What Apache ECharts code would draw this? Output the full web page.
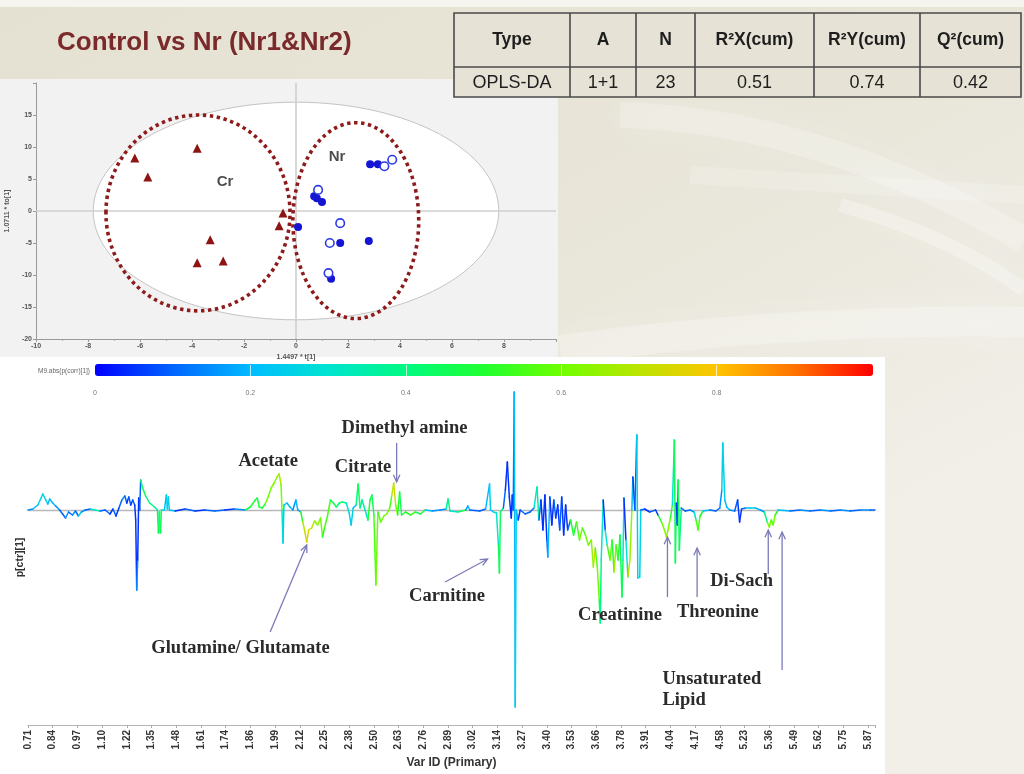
<!DOCTYPE html>
<html>
<head>
<meta charset="utf-8">
<script src="https://cdn.jsdelivr.net/npm/echarts@6.0.0/dist/echarts.min.js"></script>
<style>
  html, body { margin: 0; padding: 0; background: #e7e3d6; }
  #chart { width: 1024px; height: 774px; }
</style>
</head>
<body>
<div id="chart"></div>
<script>
// ---------- OPLS-DA scores: t[1] (predictive) vs to[1] (orthogonal) ----------
const crScores = [[-6.2, 8.3], [-5.7, 5.3], [-3.8, 9.8], [-3.3, -4.5], [-3.8, -8.1], [-2.8, -7.8], [-0.5, -0.3], [-0.65, -2.3]];
const nrScoresFilled = [[2.85, 7.3], [3.15, 7.3], [0.7, 2.3], [0.8, 2.0], [1.0, 1.4], [0.08, -2.5], [1.7, -5.0], [2.8, -4.7], [1.35, -10.6]];
const nrScoresOpen = [[3.4, 7.0], [3.7, 8.0], [0.85, 3.3], [1.7, -1.9], [1.3, -5.0], [1.25, -9.7]];

// Hotelling T2 ellipse and the two group outlines: [centre t, centre to, radius t, radius to]
const hotellingEllipse = [0, 0, 7.8, 17];
const groupEllipses = [[-3.77, -0.3, 3.54, 15.3], [2.3, -1.5, 2.42, 15.3]];
const groupNames = ['Cr', 'Nr'];
const groupNameAnchors = [[-2.73, 4.5], [1.58, 8.4]];

// ---------- model summary ----------
const tableHeader = ['Type', 'A', 'N', 'R\u00b2X(cum)', 'R\u00b2Y(cum)', 'Q\u00b2(cum)'];
const tableRow = ['OPLS-DA', '1+1', '23', '0.51', '0.74', '0.42'];

// ---------- loading line: [variable id, p[ctr][1], |p(corr)[1]|] ----------
const varTickLabels = ['0.71', '0.84', '0.97', '1.10', '1.22', '1.35', '1.48', '1.61', '1.74', '1.86', '1.99', '2.12',
  '2.25', '2.38', '2.50', '2.63', '2.76', '2.89', '3.02', '3.14', '3.27', '3.40', '3.53', '3.66', '3.78', '3.91',
  '4.04', '4.17', '4.58', '5.23', '5.36', '5.49', '5.62', '5.75', '5.87'];
const varsPerTick = 25;
const varCount = 857;

const loadings = [
  [0,0,.15],[5,.001,.2],[10,.005,.25],[15,.016,.25],[18,.010,.25],[20,.006,.2],[22,.011,.2],[25,.007,.2],[28,.004,.15],
  [32,0,.1],[35,-.004,.1],[38,-.008,.15],[41,-.002,.1],[45,-.005,.15],[48,-.001,.1],[51,-.006,.25],[54,-.002,.15],
  [58,0,.1],[63,.001,.3],[68,0,.35],[73,-.001,.1],[78,0,.1],[83,-.004,.05],[86,.001,.1],[89,-.006,.05],[92,.002,.1],
  [95,.010,.15],[98,.014,.1],[100,.007,.05],[102,.013,.1],[104,.005,.05],[106,.010,.1],[108,.005,.05],[109,-.010,.05],
  [110,-.080,.15],[111,-.050,.05],[112,.012,.05],[113,0,.1],[114,.030,.45],[116,.022,.45],[119,.014,.4],[123,.007,.4],
  [128,.003,.35],[131,0,.35],[132,-.023,.45],[133,-.002,.45],[134,-.023,.45],[135,0,.3],[138,0,.2],[140,.015,.25],
  [141,.001,.25],[142,.013,.25],[143,0,.2],[149,-.001,.05],[159,.001,.1],[169,-.001,.05],[179,0,.1],[189,-.001,.1],
  [199,0,.05],[209,.001,.15],[220,0,.45],[225,.003,.5],[230,.010,.45],[232,.012,.5],[234,.003,.45],[237,.002,.5],
  [240,.006,.6],[243,.013,.6],[246,.022,.62],[249,.027,.62],[252,.033,.65],[254,.036,.68],[256,.026,.6],[257,0,.3],
  [258,-.033,.25],[259,.005,.2],[262,.007,.2],[265,.003,.2],[268,0,.15],[271,.010,.2],[273,0,.15],[276,-.002,.5],
  [278,-.012,.7],[280,-.021,.72],[282,-.032,.75],[284,-.020,.7],[287,-.018,.7],[290,-.011,.62],[293,-.015,.65],
  [296,-.008,.6],[298,-.027,.5],[300,-.018,.55],[303,-.006,.55],[306,.010,.45],[309,.007,.45],[312,.003,.4],
  [315,.007,.45],[318,.008,.4],[322,.007,.3],[325,-.003,.25],[327,-.015,.25],[329,.002,.2],[332,.005,.4],[334,.026,.45],
  [336,.002,.4],[338,.010,.35],[341,0,.3],[344,-.010,.5],[346,.010,.45],[348,.015,.45],[350,-.005,.55],[352,-.075,.6],
  [354,-.002,.55],[357,-.012,.6],[360,-.006,.6],[363,-.004,.6],[366,.002,.55],[368,.014,.7],[370,.027,.72],[372,.005,.6],
  [374,-.005,.5],[376,.018,.45],[378,-.005,.5],[382,-.002,.5],[387,-.005,.55],[392,-.002,.45],[397,-.004,.5],[402,0,.2],
  [409,-.001,.15],[417,0,.15],[423,.001,.35],[425,.011,.4],[427,-.001,.3],[435,-.002,.45],[443,0,.15],[445,.004,.2],
  [447,0,.1],[457,-.001,.1],[463,.001,.2],[467,.026,.25],[468,0,.2],[471,-.002,.3],[474,-.003,.3],[476,-.035,.45],
  [477,-.063,.45],[478,-.002,.4],[481,.002,.1],[483,.020,.05],[485,.048,.05],[487,.013,.05],[489,-.008,.05],[490,.015,.05],
  [491,0,.1],[492,.118,.2],[493,-.197,.25],[494,0,.2],[496,-.010,.05],[498,0,.1],[503,-.004,.1],[508,-.002,.1],
  [512,.002,.3],[515,.023,.35],[517,-.010,.1],[519,.010,.05],[521,-.020,.05],[523,.015,.05],[525,-.030,.1],[526,-.047,.2],
  [528,.013,.05],[530,-.015,.05],[532,.010,.1],[534,-.008,.05],[536,.005,.05],[538,-.020,.1],[540,.013,.05],
  [542,-.025,.05],[544,.005,.05],[546,-.020,.1],[549,-.010,.5],[552,-.025,.5],[555,-.012,.55],[558,-.030,.6],
  [561,-.018,.55],[564,-.025,.6],[567,-.035,.6],[570,-.030,.65],[572,-.057,.7],[574,-.038,.55],[576,-.057,.6],
  [578,-.090,.45],[579,-.113,.4],[580,-.050,.3],[582,.010,.05],[584,-.020,.3],[586,-.035,.55],[589,-.050,.6],
  [591,-.030,.5],[593,-.062,.65],[595,-.035,.55],[597,-.050,.5],[599,-.025,.45],[601,-.087,.45],[602,-.050,.3],
  [603,.012,.05],[605,-.030,.3],[607,-.067,.7],[609,-.050,.65],[611,0,.2],[612,.033,.05],[614,0,.1],[616,.075,.25],
  [617,-.068,.3],[619,-.067,.25],[620,0,.1],[624,.001,.05],[629,-.002,.1],[635,0,.05],[638,-.006,.5],[641,-.012,.6],
  [644,-.020,.62],[646,-.027,.65],[648,-.018,.6],[650,-.008,.5],[652,.005,.3],[654,.070,.45],[655,-.053,.45],
  [656,.007,.05],[657,-.015,.1],[658,.030,.45],[659,-.040,.4],[661,.002,.1],[665,-.001,.1],[670,0,.15],[674,-.002,.3],
  [676,-.010,.55],[678,-.020,.55],[680,-.006,.5],[683,-.001,.2],[690,0,.1],[696,-.001,.1],[700,.002,.15],[702,.020,.25],
  [703,.067,.25],[705,.010,.2],[707,.003,.2],[710,0,.15],[715,-.001,.1],[718,.010,.05],[720,-.012,.05],[722,.001,.1],
  [726,.002,.2],[731,.002,.25],[736,.002,.2],[741,0,.15],[745,-.002,.4],[748,-.012,.6],[750,-.017,.6],[752,-.010,.55],
  [754,-.015,.6],[756,-.005,.5],[759,0,.2],[771,-.001,.1],[781,0,.15],[791,-.001,.1],[802,0,.15],[812,-.001,.1],
  [822,0,.15],[832,-.001,.1],[842,0,.15],[852,0,.1],[857,0,.1]
];

// metabolite call-outs, anchored in (variable id, p[ctr][1])
const metaboliteLabels = [
  ['Acetate', 243, 0.049],
  ['Citrate', 339, 0.043],
  ['Dimethyl amine', 381, 0.082],
  ['Glutamine/ Glutamate', 215, -0.138],
  ['Carnitine', 424, -0.086],
  ['Creatinine', 599, -0.105],
  ['Threonine', 698, -0.102],
  ['Di-Sach', 722, -0.071]
];
const lipidLabel = ['Unsaturated\nLipid', 642, -0.180];
const pointerArrows = [
  [[373, 0.067], [373, 0.028]],
  [[422, -0.072], [465, -0.049]],
  [[245, -0.122], [282, -0.035]],
  [[647, -0.087], [647, -0.027]],
  [[677, -0.087], [677, -0.038]],
  [[749, -0.064], [749, -0.020]],
  [[763, -0.160], [763, -0.022]]
];

const corrColours = ['#0000ff', '#0064ff', '#00bcff', '#00e4d0', '#00fa80', '#20ff30', '#70ff00', '#bce400', '#ffc400', '#ff7200', '#ff0000'];

const chart = echarts.init(document.getElementById('chart'), null, { renderer: 'canvas' });

const tinyAxisText = { fontSize: 7, fontWeight: 'bold', color: '#555', fontFamily: 'Liberation Sans' };

function ellipseItem(style) {
  return function (params, api) {
    const c = api.coord([api.value(0), api.value(1)]);
    const s = api.size([api.value(2), api.value(3)]);
    return { type: 'ellipse', shape: { cx: c[0], cy: c[1], rx: s[0], ry: s[1] }, style: style };
  };
}

const option = {
  animation: false,
  backgroundColor: {
    type: 'linear', x: 0, y: 0, x2: 0.4, y2: 1,
    colorStops: [{ offset: 0, color: '#e5e1d2' }, { offset: 0.6, color: '#e9e6da' }, { offset: 1, color: '#f1efe8' }]
  },
  grid: [
    { left: 36, top: 83, width: 520, height: 256, outerBoundsMode: 'none' },
    { left: 28, top: 390, width: 847, height: 335, outerBoundsMode: 'none' },
    { left: 95, top: 365, width: 777, height: 12, outerBoundsMode: 'none' }
  ],
  xAxis: [
    {
      gridIndex: 0, type: 'value', min: -10, max: 10, interval: 2,
      axisLine: { show: true, onZero: false, lineStyle: { color: '#9a9a9a', width: 1 } },
      axisTick: { show: true, length: 3, lineStyle: { color: '#9a9a9a' } },
      minorTick: { show: true, splitNumber: 2, length: 2, lineStyle: { color: '#aaa' } },
      axisLabel: Object.assign({ margin: 4, formatter: v => (v === 10 ? '' : String(v)) }, tinyAxisText),
      splitLine: { show: false },
      name: '1.4497 * t[1]', nameLocation: 'middle', nameGap: 15, nameTextStyle: tinyAxisText
    },
    {
      gridIndex: 1, type: 'value', min: 0, max: varCount, interval: varsPerTick,
      axisLine: { show: true, onZero: false, lineStyle: { color: '#b4b4b4', width: 1.2 } },
      axisTick: { show: true, length: 3, lineStyle: { color: '#aaa' } },
      axisLabel: {
        rotate: 90, margin: 5, fontSize: 10, fontWeight: 'bold', color: '#333', fontFamily: 'Liberation Sans',
        formatter: v => {
          const k = v / varsPerTick;
          return Number.isInteger(k) && k < varTickLabels.length ? varTickLabels[k] : '';
        }
      },
      splitLine: { show: false },
      name: 'Var ID (Primary)', nameLocation: 'middle', nameGap: 32,
      nameTextStyle: { fontSize: 12, fontWeight: 'bold', color: '#333', fontFamily: 'Liberation Sans' }
    },
    {
      gridIndex: 2, type: 'value', min: 0, max: 1, interval: 0.2, z: 10,
      axisLine: { show: false }, axisTick: { show: false },
      axisLabel: { margin: 13, fontSize: 7, color: '#777', fontFamily: 'Liberation Sans', formatter: v => (v >= 1 ? '' : String(v)) },
      splitLine: { show: true, showMinLine: false, showMaxLine: false, lineStyle: { color: 'rgba(255,255,255,0.7)', width: 1 } }
    }
  ],
  yAxis: [
    {
      gridIndex: 0, type: 'value', min: -20, max: 20, interval: 5,
      axisLine: { show: true, onZero: false, lineStyle: { color: '#9a9a9a', width: 1 } },
      axisTick: { show: true, length: 3, lineStyle: { color: '#9a9a9a' } },
      axisLabel: Object.assign({ margin: 4, formatter: v => (v === 20 ? '' : String(v)) }, tinyAxisText),
      splitLine: { show: false },
      name: '1.0711 * to[1]', nameLocation: 'middle', nameGap: 20, nameRotate: 90, nameTextStyle: tinyAxisText
    },
    {
      gridIndex: 1, type: 'value', min: -0.215, max: 0.12,
      axisLine: { show: false }, axisTick: { show: false }, axisLabel: { show: false }, splitLine: { show: false },
      name: 'p[ctr][1]', nameLocation: 'middle', nameGap: 2, nameRotate: 90,
      nameTextStyle: { fontSize: 10.5, fontWeight: 'bold', color: '#333', fontFamily: 'Liberation Sans' }
    },
    { gridIndex: 2, type: 'value', show: false }
  ],
  visualMap: {
    type: 'continuous', min: 0, max: 1, dimension: 2, seriesIndex: 6,
    orient: 'horizontal', left: 95, top: 364, itemWidth: 12, itemHeight: 778,
    calculable: false, hoverLink: false, padding: 0, text: null,
    inRange: { color: corrColours }
  },
  series: [
    {
      // Hotelling T2 (95%) region with the zero reference lines
      type: 'custom', xAxisIndex: 0, yAxisIndex: 0, z: 1, silent: true,
      data: [hotellingEllipse], encode: { x: 0, y: 1 },
      renderItem: ellipseItem({ fill: '#ffffff', stroke: '#c4c4c4', lineWidth: 1 }),
      markLine: {
        silent: true, symbol: 'none', z: 2, label: { show: false },
        lineStyle: { color: '#cfcfcf', width: 1.6, type: 'solid' },
        data: [{ xAxis: 0 }, { yAxis: 0 }]
      }
    },
    {
      // dotted group outlines
      type: 'custom', xAxisIndex: 0, yAxisIndex: 0, z: 4, silent: true,
      data: groupEllipses, encode: { x: 0, y: 1 },
      renderItem: ellipseItem({ fill: null, stroke: '#8e1b1b', lineWidth: 3.6, lineDash: [3.4, 3.6] })
    },
    {
      type: 'scatter', xAxisIndex: 0, yAxisIndex: 0, z: 5, data: crScores,
      symbol: 'triangle', symbolSize: 9, itemStyle: { color: '#8e1414', opacity: 1 }
    },
    {
      type: 'scatter', xAxisIndex: 0, yAxisIndex: 0, z: 5, data: nrScoresFilled,
      symbol: 'circle', symbolSize: 8, itemStyle: { color: '#1414d2', opacity: 1 }
    },
    {
      type: 'scatter', xAxisIndex: 0, yAxisIndex: 0, z: 6, data: nrScoresOpen,
      symbol: 'circle', symbolSize: 8.5, itemStyle: { color: '#ffffff', borderColor: '#2b3be6', borderWidth: 1.6, opacity: 1 }
    },
    {
      type: 'scatter', xAxisIndex: 0, yAxisIndex: 0, z: 7, symbolSize: 0, silent: true,
      data: groupNames.map((n, i) => ({ name: n, value: groupNameAnchors[i] })),
      label: {
        show: true, position: 'inside', formatter: '{b}',
        fontSize: 15, fontWeight: 'bold', color: '#1e1e1e', fontFamily: 'Liberation Sans'
      }
    },
    {
      // loading line, each segment coloured by |p(corr)|
      type: 'custom', xAxisIndex: 1, yAxisIndex: 1, z: 3, silent: true,
      data: loadings, encode: { x: 0, y: 1 },
      renderItem: function (params, api) {
        const i = params.dataIndex;
        if (i >= loadings.length - 1) return null;
        const a = api.coord([loadings[i][0], loadings[i][1]]);
        const b = api.coord([loadings[i + 1][0], loadings[i + 1][1]]);
        return {
          type: 'line',
          shape: { x1: a[0], y1: a[1], x2: b[0], y2: b[1] },
          style: { stroke: api.visual('color'), lineWidth: 1.5, lineCap: 'round' }
        };
      },
      markLine: {
        silent: true, symbol: 'none', z: 1, label: { show: false },
        lineStyle: { color: '#b8b8b8', width: 1.4, type: 'solid' },
        data: [{ yAxis: 0 }]
      }
    }
  ]
};

chart.setOption(option);

// ---------- page furniture and annotations ----------
const toPx = (x, y) => chart.convertToPixel({ gridIndex: 1 }, [x, y]);
const calloutFont = { fontFamily: 'Liberation Serif', fontWeight: 'bold', fontSize: 18.5, fill: '#2b2b2b' };
const arrowColour = '#7a7ab8';

const graphics = [];

// slide panels and soft light streaks
graphics.push({ type: 'rect', z: -50, shape: { x: 0, y: 0, width: 1024, height: 7 }, style: { fill: '#f5f4ef' } });
[
  [[620, 115], [820, 120], [1024, 240], 26, 0.22],
  [[840, 205], [950, 235], [1024, 290], 14, 0.28],
  [[560, 350], [800, 318], [1024, 322], 30, 0.25],
  [[690, 175], [860, 185], [1024, 195], 18, 0.18]
].forEach(function (c) {
  graphics.push({
    type: 'bezierCurve', z: -49, silent: true,
    shape: { x1: c[0][0], y1: c[0][1], cpx1: c[1][0], cpy1: c[1][1], x2: c[2][0], y2: c[2][1] },
    style: { stroke: 'rgba(255,255,255,' + c[4] + ')', fill: null, lineWidth: c[3], shadowBlur: 40, shadowColor: 'rgba(255,255,255,0.8)' }
  });
});
graphics.push({ type: 'rect', z: -40, shape: { x: 0, y: 79, width: 558, height: 279 }, style: { fill: '#f2f2f2' } });
graphics.push({ type: 'rect', z: -40, shape: { x: 0, y: 357, width: 885, height: 417 }, style: { fill: '#ffffff' } });

// title
graphics.push({
  type: 'text', z: 20, style: {
    text: 'Control vs Nr (Nr1&Nr2)', x: 57, y: 43, verticalAlign: 'middle',
    fontFamily: 'Liberation Sans', fontWeight: 'bold', fontSize: 26, fill: '#7a2a2a'
  }
});

// model summary table
const colEdges = [454, 570, 636, 695, 814, 920, 1021];
const rowEdges = [13, 67, 97];
graphics.push({ type: 'rect', z: 20, shape: { x: colEdges[0], y: rowEdges[0], width: colEdges[6] - colEdges[0], height: rowEdges[2] - rowEdges[0] }, style: { fill: '#e6e2d5', stroke: '#4a4a4a', lineWidth: 1.6 } });
graphics.push({ type: 'line', z: 21, shape: { x1: colEdges[0], y1: rowEdges[1], x2: colEdges[6], y2: rowEdges[1] }, style: { stroke: '#4a4a4a', lineWidth: 1.6 } });
for (let i = 1; i < colEdges.length - 1; i++) {
  graphics.push({ type: 'line', z: 21, shape: { x1: colEdges[i], y1: rowEdges[0], x2: colEdges[i], y2: rowEdges[2] }, style: { stroke: '#4a4a4a', lineWidth: 1.6 } });
}
for (let i = 0; i < tableHeader.length; i++) {
  const cx = (colEdges[i] + colEdges[i + 1]) / 2;
  graphics.push({ type: 'text', z: 22, style: { text: tableHeader[i], x: cx, y: (rowEdges[0] + rowEdges[1]) / 2, align: 'center', verticalAlign: 'middle', fontFamily: 'Liberation Sans', fontWeight: 'bold', fontSize: 17.5, fill: '#1e1e1e' } });
  graphics.push({ type: 'text', z: 22, style: { text: tableRow[i], x: cx, y: (rowEdges[1] + rowEdges[2]) / 2 + 1, align: 'center', verticalAlign: 'middle', fontFamily: 'Liberation Sans', fontSize: 18, fill: '#1e1e1e' } });
}

// colour-scale caption
graphics.push({ type: 'text', z: 20, style: { text: 'M9.abs(p(corr)[1])', x: 90, y: 371, align: 'right', verticalAlign: 'middle', fontFamily: 'Liberation Sans', fontSize: 6.5, fill: '#666' } });

// metabolite names
metaboliteLabels.forEach(function (m) {
  const p = toPx(m[1], m[2]);
  graphics.push({ type: 'text', z: 20, style: Object.assign({ text: m[0], x: p[0], y: p[1], align: 'center', verticalAlign: 'middle' }, calloutFont) });
});
(function () {
  const p = toPx(lipidLabel[1], lipidLabel[2]);
  graphics.push({ type: 'text', z: 20, style: Object.assign({ text: lipidLabel[0], x: p[0], y: p[1], align: 'left', verticalAlign: 'middle', lineHeight: 21 }, calloutFont) });
})();

// pointer arrows
pointerArrows.forEach(function (a) {
  const s = toPx(a[0][0], a[0][1]);
  const e = toPx(a[1][0], a[1][1]);
  const ang = Math.atan2(e[1] - s[1], e[0] - s[0]);
  const len = 8, spread = 0.42;
  graphics.push({ type: 'line', z: 20, shape: { x1: s[0], y1: s[1], x2: e[0], y2: e[1] }, style: { stroke: arrowColour, lineWidth: 1.3 } });
  graphics.push({
    type: 'polyline', z: 20,
    shape: { points: [
      [e[0] - len * Math.cos(ang - spread), e[1] - len * Math.sin(ang - spread)],
      [e[0], e[1]],
      [e[0] - len * Math.cos(ang + spread), e[1] - len * Math.sin(ang + spread)]
    ] },
    style: { stroke: arrowColour, lineWidth: 1.3, fill: null }
  });
});

chart.setOption({ graphic: graphics });
</script>
</body>
</html>
